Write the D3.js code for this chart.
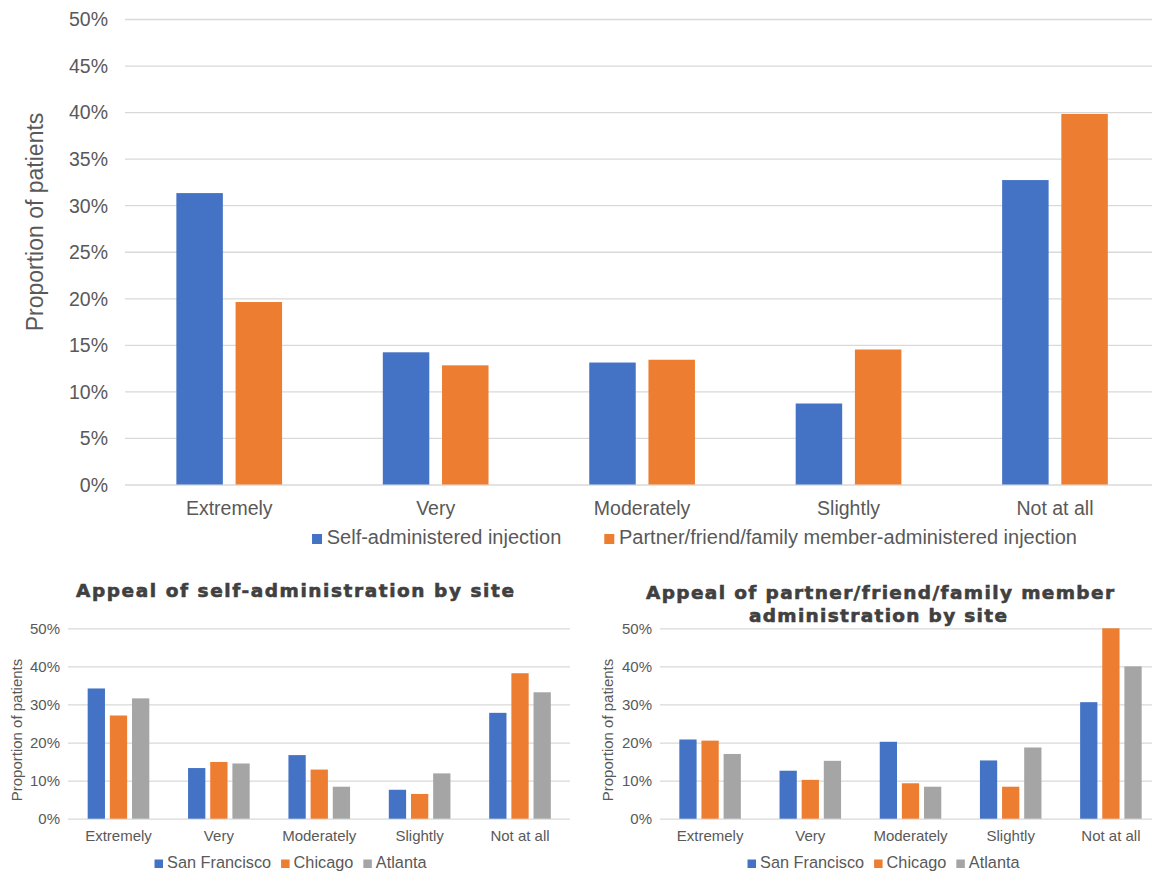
<!DOCTYPE html>
<html>
<head>
<meta charset="utf-8">
<script src="https://cdn.jsdelivr.net/npm/d3@7"></script>
<style>
  html, body { margin: 0; padding: 0; background: #ffffff; }
  svg { display: block; font-family: "Liberation Sans", Arial, sans-serif; }
</style>
</head>
<body>
<svg id="chart" width="1152" height="872"></svg>
<script>
// ---------- data ----------
const categories = ["Extremely", "Very", "Moderately", "Slightly", "Not at all"];

const mainSeriesNames = ["Self-administered injection", "Partner/friend/family member-administered injection"];
const selfAdministered = [31.3, 14.2, 13.1, 8.7, 32.7];
const partnerAdministered = [19.6, 12.8, 13.4, 14.5, 39.8];
const mainTicks = [0, 5, 10, 15, 20, 25, 30, 35, 40, 45, 50];

const sites = ["San Francisco", "Chicago", "Atlanta"];
const selfSanFrancisco = [34.2, 13.3, 16.7, 7.6, 27.8];
const selfChicago = [27.1, 14.9, 12.9, 6.5, 38.2];
const selfAtlanta = [31.6, 14.5, 8.4, 11.9, 33.2];

const partnerSanFrancisco = [20.8, 12.6, 20.2, 15.3, 30.6];
const partnerChicago = [20.5, 10.2, 9.3, 8.4, 50.0];
const partnerAtlanta = [17.0, 15.2, 8.4, 18.7, 40.0];
const siteTicks = [0, 10, 20, 30, 40, 50];

const yAxisTitle = "Proportion of patients";
const leftTitle = ["Appeal of self-administration by site"];
const rightTitle = ["Appeal of partner/friend/family member", "administration by site"];

const colors = ["#4472C4", "#ED7D31", "#A5A5A5"];
const textColor = "#595959";
const gridColor = "#D9D9D9";

const svg = d3.select("#chart");

function drawChart(cfg) {
  const g = svg.append("g");
  const x0 = d3.scaleBand().domain(categories).range(cfg.xRange)
    .paddingInner(cfg.padding).paddingOuter(cfg.padding / 2);
  const x1 = d3.scaleBand().domain(cfg.seriesNames).range([0, x0.bandwidth()])
    .paddingInner(cfg.innerPadding).paddingOuter(0);
  const y = d3.scaleLinear().domain([0, 50]).range(cfg.yRange);

  // y axis with gridlines
  const yAxis = d3.axisLeft(y).tickValues(cfg.ticks)
    .tickSize(-(cfg.gridRight - cfg.gridLeft))
    .tickPadding(cfg.tickPad)
    .tickFormat(d => d + "%");
  const ya = g.append("g").attr("transform", `translate(${cfg.gridLeft},0)`).call(yAxis);
  ya.select(".domain").remove();
  ya.selectAll(".tick line").attr("stroke", gridColor).attr("stroke-width", 1.3);
  ya.selectAll(".tick text")
    .attr("fill", textColor)
    .style("font-size", cfg.tickFont + "px")
    .attr("dy", "0.35em");

  // bars
  const series = cfg.seriesNames.map((name, i) => ({ name, values: cfg.values[i], color: colors[i] }));
  const groups = g.append("g").selectAll("g").data(categories).join("g")
    .attr("transform", d => `translate(${x0(d)},0)`);
  groups.selectAll("rect")
    .data((c, ci) => series.map(s => ({ name: s.name, value: s.values[ci], color: s.color })))
    .join("rect")
    .attr("x", d => x1(d.name))
    .attr("width", x1.bandwidth())
    .attr("y", d => y(d.value))
    .attr("height", d => y(0) - y(d.value))
    .attr("fill", d => d.color);

  // x axis labels
  const xAxis = d3.axisBottom(x0).tickSize(0).tickPadding(0);
  const xa = g.append("g").attr("transform", `translate(0,${y(0)})`).call(xAxis);
  xa.select(".domain").remove();
  xa.selectAll(".tick text")
    .attr("y", cfg.catBaseline - y(0))
    .attr("dy", 0)
    .attr("fill", textColor)
    .style("font-size", cfg.catFont + "px");

  // y axis title
  g.append("text")
    .attr("transform", `translate(${cfg.yTitleX},${cfg.yTitleY}) rotate(-90)`)
    .attr("text-anchor", "middle")
    .attr("dominant-baseline", "central")
    .attr("fill", textColor)
    .style("font-size", cfg.yTitleFont + "px")
    .text(yAxisTitle);

  // legend
  const leg = g.append("g");
  const items = leg.selectAll("g").data(series).join("g");
  items.append("rect")
    .attr("width", cfg.legSquare).attr("height", cfg.legSquare)
    .attr("y", cfg.legBaseline - cfg.legSquare)
    .attr("fill", d => d.color);
  items.append("text")
    .attr("x", cfg.legSquare + cfg.legTextGap)
    .attr("y", cfg.legBaseline)
    .attr("fill", textColor)
    .style("font-size", cfg.legFont + "px")
    .text(d => d.name);
  let xpos = 0;
  const offsets = [];
  items.each(function () {
    offsets.push(xpos);
    const w = this.getBBox().width;
    xpos += w + cfg.legItemGap;
  });
  const total = xpos - cfg.legItemGap;
  const start = cfg.legCenter - total / 2;
  items.attr("transform", (d, i) => `translate(${start + offsets[i]},0)`);

  // title
  if (cfg.title) {
    cfg.title.forEach((t, i) => {
      g.append("text")
        .attr("x", cfg.titleSpans[i][0])
        .attr("y", cfg.titleBaselines[i])
        .attr("textLength", cfg.titleSpans[i][1] - cfg.titleSpans[i][0])
        .attr("lengthAdjust", "spacing")
        .attr("fill", "#404040")
        .attr("stroke", "#404040")
        .attr("stroke-width", 0.6)
        .style("font-family", "'DejaVu Sans', sans-serif")
        .style("font-weight", "bold")
        .style("font-size", "18.5px")
        .text(t);
    });
  }
}

// top chart
drawChart({
  seriesNames: mainSeriesNames,
  values: [selfAdministered, partnerAdministered],
  xRange: [126, 1158.2],
  padding: 0.488,
  innerPadding: 0.215,
  yRange: [484.5, 19],
  ticks: mainTicks,
  gridLeft: 125, gridRight: 1152,
  tickPad: 17, tickFont: 19.5,
  catBaseline: 515, catFont: 19.5,
  yTitleX: 35, yTitleY: 222, yTitleFont: 23,
  legSquare: 10, legTextGap: 4.7, legBaseline: 544, legFont: 20, legItemGap: 43, legCenter: 694.5
});

// bottom-left chart
drawChart({
  seriesNames: sites,
  values: [selfSanFrancisco, selfChicago, selfAtlanta],
  xRange: [68.3, 570.2],
  padding: 0.386,
  innerPadding: 0.22,
  yRange: [818.7, 628.3],
  ticks: siteTicks,
  gridLeft: 68, gridRight: 570,
  tickPad: 8, tickFont: 15,
  catBaseline: 841, catFont: 15,
  yTitleX: 16, yTitleY: 730, yTitleFont: 15,
  legSquare: 8.5, legTextGap: 4, legBaseline: 868, legFont: 16.3, legItemGap: 10, legCenter: 291,
  title: leftTitle,
  titleSpans: [[76, 514]],
  titleBaselines: [597]
});

// bottom-right chart
drawChart({
  seriesNames: sites,
  values: [partnerSanFrancisco, partnerChicago, partnerAtlanta],
  xRange: [660, 1161],
  padding: 0.386,
  innerPadding: 0.22,
  yRange: [818.7, 628.3],
  ticks: siteTicks,
  gridLeft: 660, gridRight: 1152,
  tickPad: 8, tickFont: 15,
  catBaseline: 841, catFont: 15,
  yTitleX: 607, yTitleY: 730, yTitleFont: 15,
  legSquare: 8.5, legTextGap: 4, legBaseline: 868, legFont: 16.3, legItemGap: 10, legCenter: 884,
  title: rightTitle,
  titleSpans: [[646, 1114], [749, 1007]],
  titleBaselines: [599, 622]
});
</script>
</body>
</html>
